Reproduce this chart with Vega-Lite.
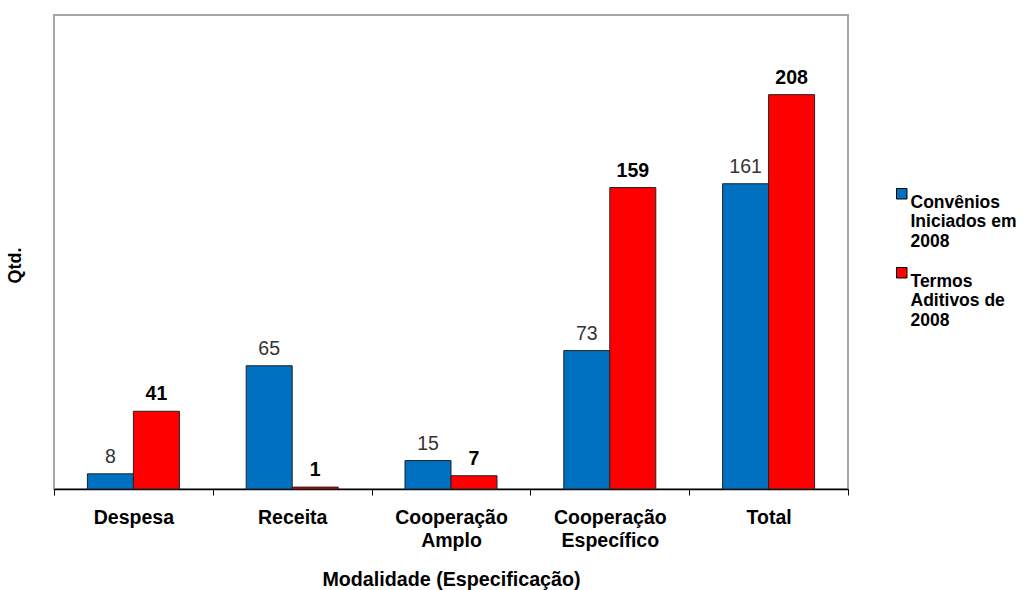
{
  "$schema": "https://vega.github.io/schema/vega-lite/v6.json",
  "width": 794,
  "height": 474,
  "autosize": {"type": "none"},
  "padding": {"left": 54, "top": 15, "right": 175, "bottom": 101},
  "background": "white",
  "config": {
    "font": "Liberation Sans",
    "view": {"stroke": "#a6a6a6", "strokeWidth": 2}
  },
  "data": {
    "values": [
      {"cat": "Despesa", "serie": "Convênios|Iniciados em|2008", "value": 8},
      {"cat": "Despesa", "serie": "Termos|Aditivos de|2008", "value": 41},
      {"cat": "Receita", "serie": "Convênios|Iniciados em|2008", "value": 65},
      {"cat": "Receita", "serie": "Termos|Aditivos de|2008", "value": 1},
      {"cat": "Cooperação|Amplo", "serie": "Convênios|Iniciados em|2008", "value": 15},
      {"cat": "Cooperação|Amplo", "serie": "Termos|Aditivos de|2008", "value": 7},
      {"cat": "Cooperação|Específico", "serie": "Convênios|Iniciados em|2008", "value": 73},
      {"cat": "Cooperação|Específico", "serie": "Termos|Aditivos de|2008", "value": 159},
      {"cat": "Total", "serie": "Convênios|Iniciados em|2008", "value": 161},
      {"cat": "Total", "serie": "Termos|Aditivos de|2008", "value": 208}
    ]
  },
  "encoding": {
    "x": {
      "field": "cat",
      "type": "nominal",
      "sort": null,
      "scale": {"paddingInner": 0, "paddingOuter": 0},
      "axis": {
        "title": "Modalidade (Especificação)",
        "titleFontSize": 19.7,
        "titleFontWeight": "bold",
        "titleColor": "black",
        "titlePadding": 20,
        "labelExpr": "isValid(datum.value) ? split(datum.value, '|') : ''",
        "labelAngle": 0,
        "labelFontSize": 19.5,
        "labelFontWeight": "bold",
        "labelColor": "black",
        "labelLineHeight": 23,
        "labelPadding": 13,
        "tickBand": "extent",
        "tickSize": 6,
        "tickColor": "black",
        "domainColor": "black",
        "domainWidth": 1.5
      }
    },
    "xOffset": {"field": "serie", "type": "nominal", "sort": null, "scale": {"paddingInner": 0, "paddingOuter": 0.726}},
    "y": {
      "field": "value",
      "type": "quantitative",
      "scale": {"domain": [0, 250], "nice": false},
      "axis": {
        "title": "Qtd.",
        "titleFontSize": 18,
        "titleFontWeight": "bold",
        "titleColor": "black",
        "titleY": 250,
        "labels": false,
        "ticks": false,
        "domain": false,
        "grid": false,
        "titlePadding": 30
      }
    }
  },
  "layer": [
    {
      "mark": {"type": "bar", "stroke": "#222222", "strokeWidth": 1},
      "encoding": {
        "color": {
          "field": "serie",
          "type": "nominal",
          "sort": null,
          "scale": {"range": ["#0070C0", "#FF0000"]},
          "legend": {
            "title": null,
            "orient": "none",
            "legendX": 839,
            "legendY": 170,
            "symbolType": "square",
            "symbolSize": 110,
            "symbolStrokeColor": "black",
            "symbolStrokeWidth": 1,
            "labelExpr": "split(datum.value, '|')",
            "labelFontSize": 17.5,
            "labelFontWeight": "bold",
            "labelColor": "black",
            "labelLineHeight": 20.5,
            "labelOffset": 0,
            "rowPadding": 13,
            "labelBaseline": "top",
            "labelLimit": 200
          }
        }
      }
    },
    {
      "transform": [{"filter": "indexof(datum.serie, 'Conv') == 0"}],
      "mark": {"type": "text", "baseline": "alphabetic", "dy": -11, "fontSize": 19.5, "color": "#333333"},
      "encoding": {"text": {"field": "value", "type": "quantitative"}}
    },
    {
      "transform": [{"filter": "indexof(datum.serie, 'Termos') == 0"}],
      "mark": {"type": "text", "baseline": "alphabetic", "dy": -11, "fontSize": 19.5, "fontWeight": "bold", "color": "black"},
      "encoding": {"text": {"field": "value", "type": "quantitative"}}
    }
  ]
}
